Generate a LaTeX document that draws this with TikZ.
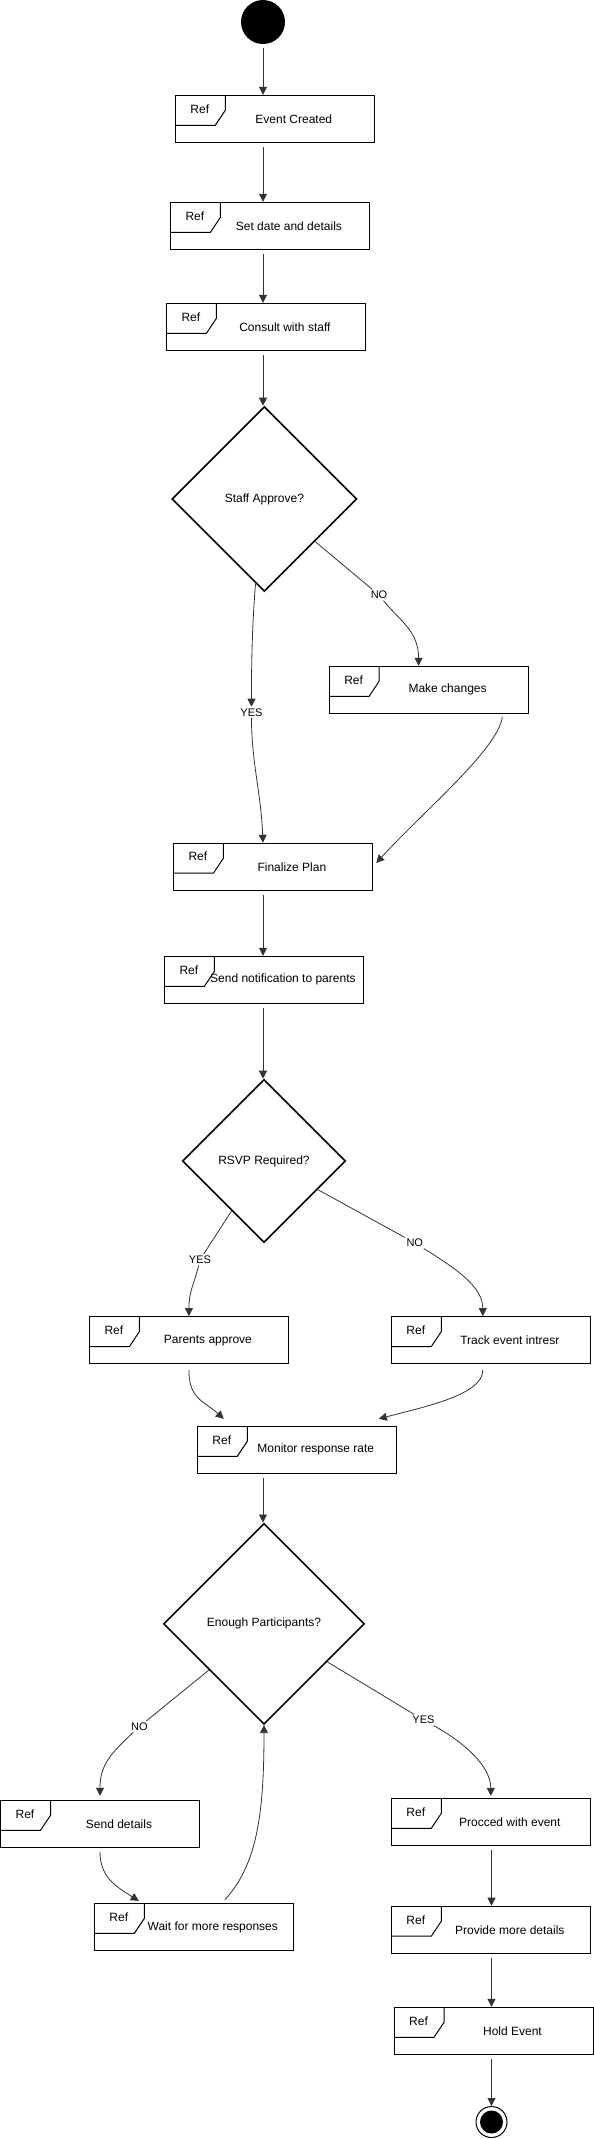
\documentclass[tikz,border=0pt]{standalone}
\usepackage{fontspec}
\setmainfont{Liberation Sans}
\usetikzlibrary{shapes.geometric,arrows.meta}

\begin{document}
\begin{tikzpicture}
  [x=1pt,y=-1pt,
   >={Triangle[width=8pt,length=8pt]},
   flow/.style={->, draw=black!80, line width=0.8pt},
   refbox/.style={draw, rectangle, line width=1pt, minimum width=199pt, minimum height=47pt,
     inner sep=0pt, font=\fontsize{12}{14}\selectfont,
     execute at begin node={\hspace*{38pt}},
     path picture={\draw[line width=1pt] (path picture bounding box.north west)
       ++(0,30) -- ++(40,0) -- ++(10,-15) -- ++(0,-15);},
     label={[anchor=center, xshift=25pt, yshift=-14pt, execute at begin node={},
       font=\fontsize{12}{14}\selectfont]north west:Ref}},
   decision/.style={draw, diamond, aspect=1, line width=1.6pt, inner sep=0pt,
     font=\fontsize{12}{14}\selectfont},
   edgelbl/.style={inner sep=1.5pt, font=\fontsize{11}{13}\selectfont},
   startnode/.style={circle, fill=black, minimum size=44pt, inner sep=0pt},
   stopnode/.style={circle, draw, line width=1pt, minimum size=31pt, inner sep=0pt,
     path picture={\fill[black] (path picture bounding box.center) circle (11.5pt);}}]
  \useasboundingbox (0,0) rectangle (594,2139);

  \node[startnode] (start) at (263,22) {};
  \node[refbox] (ec)  at (274.8,118.8)  {Event Created};
  \node[refbox] (sd)  at (269.9,225.8)  {Set date and details};
  \node[refbox] (cs)  at (265.9,326.8)  {Consult with staff};
  \node[decision, minimum size=185pt] (d1) at (264.4,499) {Staff Approve?};
  \node[refbox] (mc)  at (428.6,689.8)  {Make changes};
  \node[refbox] (fp)  at (272.9,866.7)  {Finalize Plan};
  \node[refbox] (sn)  at (263.9,979.8)  {Send notification to parents};
  \node[decision, minimum size=163pt] (d2) at (264,1161) {RSVP Required?};
  \node[refbox] (pa)  at (188.9,1340.1) {Parents approve};
  \node[refbox] (te)  at (490.8,1340.1) {Track event intresr};
  \node[refbox] (mr)  at (296.8,1449.8) {Monitor response rate};
  \node[decision, minimum size=201pt] (d3) at (264,1623.8) {Enough Participants?};
  \node[refbox] (sdt) at (100,1823.8)   {Send details};
  \node[refbox] (pe)  at (490.8,1821.8) {Procced with event};
  \node[refbox] (wm)  at (193.8,1926.9) {Wait for more responses};
  \node[refbox] (pm)  at (490.8,1929.7) {Provide more details};
  \node[refbox] (he)  at (493.5,2030.8) {Hold Event};
  \node[stopnode] (stop) at (491.5,2122) {};

  % branch labels
  \node[edgelbl] (no1)  at (379,595)      {NO};
  \node[edgelbl] (yes1) at (251.5,712.3)  {YES};
  \node[edgelbl] (yes2) at (200,1259.7)   {YES};
  \node[edgelbl] (no2)  at (414.8,1242.9) {NO};
  \node[edgelbl] (no3)  at (139.4,1726.6) {NO};
  \node[edgelbl] (yes3) at (423.5,1720)   {YES};

  \foreach \from/\to in {start/ec,ec/sd,sd/cs,cs/d1,fp/sn,sn/d2,mr/d3}
    \draw[flow, shorten <=4pt] (\from.south -| start) -- (\to.north -| start);
  \foreach \from/\to in {pe/pm,pm/he,he/stop}
    \draw[flow, shorten <=4pt] (\from.south -| stop) -- (\to.north -| stop);

  \draw[flow] (d1.-40) -- (no1) .. controls +(20,25) and +(0,-35) .. ([xshift=-10pt]mc.north);
  \draw[flow] (d1.264) .. controls +(-4,50) and +(0,-40) .. (yes1);
  \draw[flow] (yes1) .. controls +(0,50) and +(-2,-50) .. (fp.north -| start);
  \draw[flow, shorten <=3pt, shorten >=5pt] ([xshift=74pt]mc.south)
    .. controls +(-4,35) and +(50,-55) .. (fp.east);

  \draw[flow] (d2.237) -- (yes2) .. controls +(-6,25) and +(0,-25) .. (pa.north);
  \draw[flow] (d2.-28) -- (no2) .. controls +(40,25) and +(0,-30) .. ([xshift=-8pt]te.north);
  \draw[flow, shorten <=6pt] (pa.south)
    .. controls +(0,35) and +(-20,-18) .. ([xshift=-73pt,yshift=7pt]mr.north);
  \draw[flow, shorten <=6pt] ([xshift=-8pt]te.south)
    .. controls +(0,30) and +(50,-13) .. ([xshift=82pt,yshift=7pt]mr.north);

  \draw[flow] (d3.220) -- (no3) .. controls +(-30,28) and +(0,-30) .. ([yshift=4pt]sdt.north);
  \draw[flow] (d3.-31) -- (yes3) .. controls +(40,22) and +(0,-30) .. ([yshift=2pt]pe.north);
  \draw[flow, shorten <=4pt] (sdt.south)
    .. controls +(0,30) and +(-22,-14) .. ([xshift=-55pt,yshift=2pt]wm.north);
  \draw[flow] ([xshift=31pt,yshift=3pt]wm.north) .. controls +(32,-35) and +(0,90) .. (d3.south);

\end{tikzpicture}
\end{document}
